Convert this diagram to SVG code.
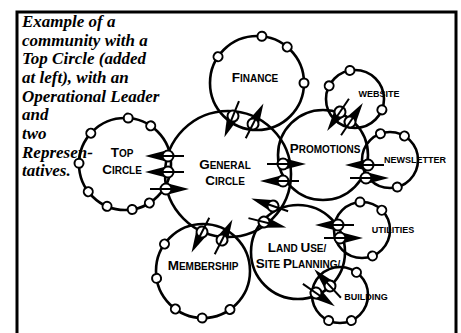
<svg xmlns="http://www.w3.org/2000/svg" xmlns:xlink="http://www.w3.org/1999/xlink" width="461" height="333" viewBox="0 0 461 333">
<style>
.c{fill:none;stroke:#000;stroke-width:2.6}
.d{fill:#fff;stroke:#000;stroke-width:2}
.lb{font-family:"Liberation Sans",Arial,sans-serif;font-weight:bold;font-size:10px;text-anchor:middle;fill:#000}
.sm{font-family:"Liberation Sans",Arial,sans-serif;font-weight:bold;font-size:9px;text-anchor:middle;fill:#000}
.bg{font-size:13.5px}
.t{font-family:"Liberation Serif","Times New Roman",serif;font-style:italic;font-weight:bold;font-size:17px;fill:#000}
</style>
<defs>
<circle id="dt" r="4.5" class="d"/>
<g id="lk">
<polygon points="0,-6 0,6 23,0" fill="#000"/>
<circle r="5.5" class="d"/>
<line x1="-16" y1="0" x2="7" y2="0" stroke="#000" stroke-width="2"/>
</g>
</defs>
<rect x="17" y="12" width="439" height="340" fill="none" stroke="#000" stroke-width="3"/>
<g id="caption" class="t">
<text x="22" y="27">Example of a</text>
<text x="22" y="45.5">community with a</text>
<text x="22" y="64">Top Circle (added</text>
<text x="22" y="83">at left), with an</text>
<text x="22" y="101.5">Operational Leader</text>
<text x="22" y="120">and</text>
<text x="22" y="139">two</text>
<text x="22" y="157.5">Represen-</text>
<text x="22" y="176">tatives.</text>
</g>
<g id="finance">
<circle class="c" cx="257" cy="83" r="47"/>
<use xlink:href="#dt" transform="translate(257 83) rotate(-146) translate(47 0)"/>
<use xlink:href="#dt" transform="translate(257 83) rotate(-84) translate(47 0)"/>
<use xlink:href="#dt" transform="translate(257 83) rotate(-50) translate(47 0)"/>
<use xlink:href="#dt" transform="translate(257 83) rotate(0) translate(47 0)"/>
<text class="lb" x="255" y="82"><tspan class="bg">F</tspan>INANCE</text>
</g>
<g id="general">
<circle class="c" cx="228" cy="174" r="63"/>
<text class="lb" x="225" y="169"><tspan class="bg">G</tspan>ENERAL</text>
<text class="lb" x="225" y="185"><tspan class="bg">C</tspan>IRCLE</text>
</g>
<g id="top-circle">
<circle class="c" cx="125" cy="164" r="46"/>
<use xlink:href="#dt" transform="translate(125 164) rotate(-86) translate(46 0)"/>
<use xlink:href="#dt" transform="translate(125 164) rotate(-56) translate(46 0)"/>
<use xlink:href="#dt" transform="translate(125 164) rotate(-138) translate(46 0)"/>
<use xlink:href="#dt" transform="translate(125 164) rotate(181) translate(46 0)"/>
<use xlink:href="#dt" transform="translate(125 164) rotate(143) translate(46 0)"/>
<use xlink:href="#dt" transform="translate(125 164) rotate(113) translate(46 0)"/>
<use xlink:href="#dt" transform="translate(125 164) rotate(81) translate(46 0)"/>
<use xlink:href="#dt" transform="translate(125 164) rotate(58) translate(46 0)"/>
<text class="lb" x="122" y="157"><tspan class="bg">T</tspan>OP</text>
<text class="lb" x="122" y="174"><tspan class="bg">C</tspan>IRCLE</text>
</g>
<g id="promotions">
<circle class="c" cx="323" cy="155" r="45"/>
<text class="lb" x="325" y="153"><tspan class="bg">P</tspan>ROMOTIONS</text>
</g>
<g id="website">
<circle class="c" cx="355" cy="99" r="29"/>
<use xlink:href="#dt" transform="translate(355 99) rotate(-153) translate(29 0)"/>
<use xlink:href="#dt" transform="translate(355 99) rotate(-100) translate(29 0)"/>
<use xlink:href="#dt" transform="translate(355 99) rotate(22) translate(29 0)"/>
<text class="sm" x="379" y="97">WEBSITE</text>
</g>
<g id="newsletter">
<circle class="c" cx="390" cy="160" r="28"/>
<use xlink:href="#dt" transform="translate(390 160) rotate(-110) translate(28 0)"/>
<use xlink:href="#dt" transform="translate(390 160) rotate(-59) translate(28 0)"/>
<use xlink:href="#dt" transform="translate(390 160) rotate(75) translate(28 0)"/>
<text class="sm" x="415" y="163">NEWSLETTER</text>
</g>
<g id="membership">
<circle class="c" cx="203" cy="271" r="47"/>
<use xlink:href="#dt" transform="translate(203 271) rotate(-145) translate(47 0)"/>
<use xlink:href="#dt" transform="translate(203 271) rotate(171) translate(47 0)"/>
<use xlink:href="#dt" transform="translate(203 271) rotate(126) translate(47 0)"/>
<use xlink:href="#dt" transform="translate(203 271) rotate(91) translate(47 0)"/>
<use xlink:href="#dt" transform="translate(203 271) rotate(55) translate(47 0)"/>
<text class="lb" x="203" y="270"><tspan class="bg">M</tspan>EMBERSHIP</text>
</g>
<g id="land-use">
<circle class="c" cx="298" cy="252" r="47"/>
<text class="lb" x="297" y="252"><tspan class="bg">L</tspan>AND <tspan class="bg">U</tspan>SE/</text>
<text class="lb" x="298" y="268"><tspan class="bg">S</tspan>ITE <tspan class="bg">P</tspan>LANNING/</text>
</g>
<g id="utilities">
<circle class="c" cx="362" cy="230" r="28"/>
<use xlink:href="#dt" transform="translate(362 230) rotate(-94) translate(28 0)"/>
<use xlink:href="#dt" transform="translate(362 230) rotate(-45) translate(28 0)"/>
<use xlink:href="#dt" transform="translate(362 230) rotate(68) translate(28 0)"/>
<text class="sm" x="393" y="233">UTILITIES</text>
</g>
<g id="building">
<circle class="c" cx="340" cy="295" r="28"/>
<use xlink:href="#dt" transform="translate(340 295) rotate(-54) translate(28 0)"/>
<use xlink:href="#dt" transform="translate(340 295) rotate(114) translate(28 0)"/>
<use xlink:href="#dt" transform="translate(340 295) rotate(66) translate(28 0)"/>
<text class="sm" x="366" y="300">BUILDING</text>
</g>
<g id="connectors">
<use xlink:href="#lk" transform="translate(168 156) rotate(180)"/>
<use xlink:href="#lk" transform="translate(168 172) rotate(180)"/>
<use xlink:href="#lk" transform="translate(166 189) rotate(0)"/>
<use xlink:href="#lk" transform="translate(233 116) rotate(112)"/>
<use xlink:href="#lk" transform="translate(253 124) rotate(-63)"/>
<use xlink:href="#lk" transform="translate(202 232) rotate(117)"/>
<use xlink:href="#lk" transform="translate(222 240) rotate(-63)"/>
<use xlink:href="#lk" transform="translate(273 206) rotate(-161)"/>
<use xlink:href="#lk" transform="translate(264 222) rotate(14)"/>
<use xlink:href="#lk" transform="translate(283 164) rotate(0)"/>
<use xlink:href="#lk" transform="translate(283 181) rotate(180)"/>
<use xlink:href="#lk" transform="translate(340 112) rotate(124)"/>
<use xlink:href="#lk" transform="translate(350 122) rotate(-56)"/>
<use xlink:href="#lk" transform="translate(368 165) rotate(180)"/>
<use xlink:href="#lk" transform="translate(366 178) rotate(0)"/>
<use xlink:href="#lk" transform="translate(338 225) rotate(180)"/>
<use xlink:href="#lk" transform="translate(340 238) rotate(0)"/>
<use xlink:href="#lk" transform="translate(330 286) rotate(-133)"/>
<use xlink:href="#lk" transform="translate(316 293) rotate(35)"/>
</g>
</svg>
